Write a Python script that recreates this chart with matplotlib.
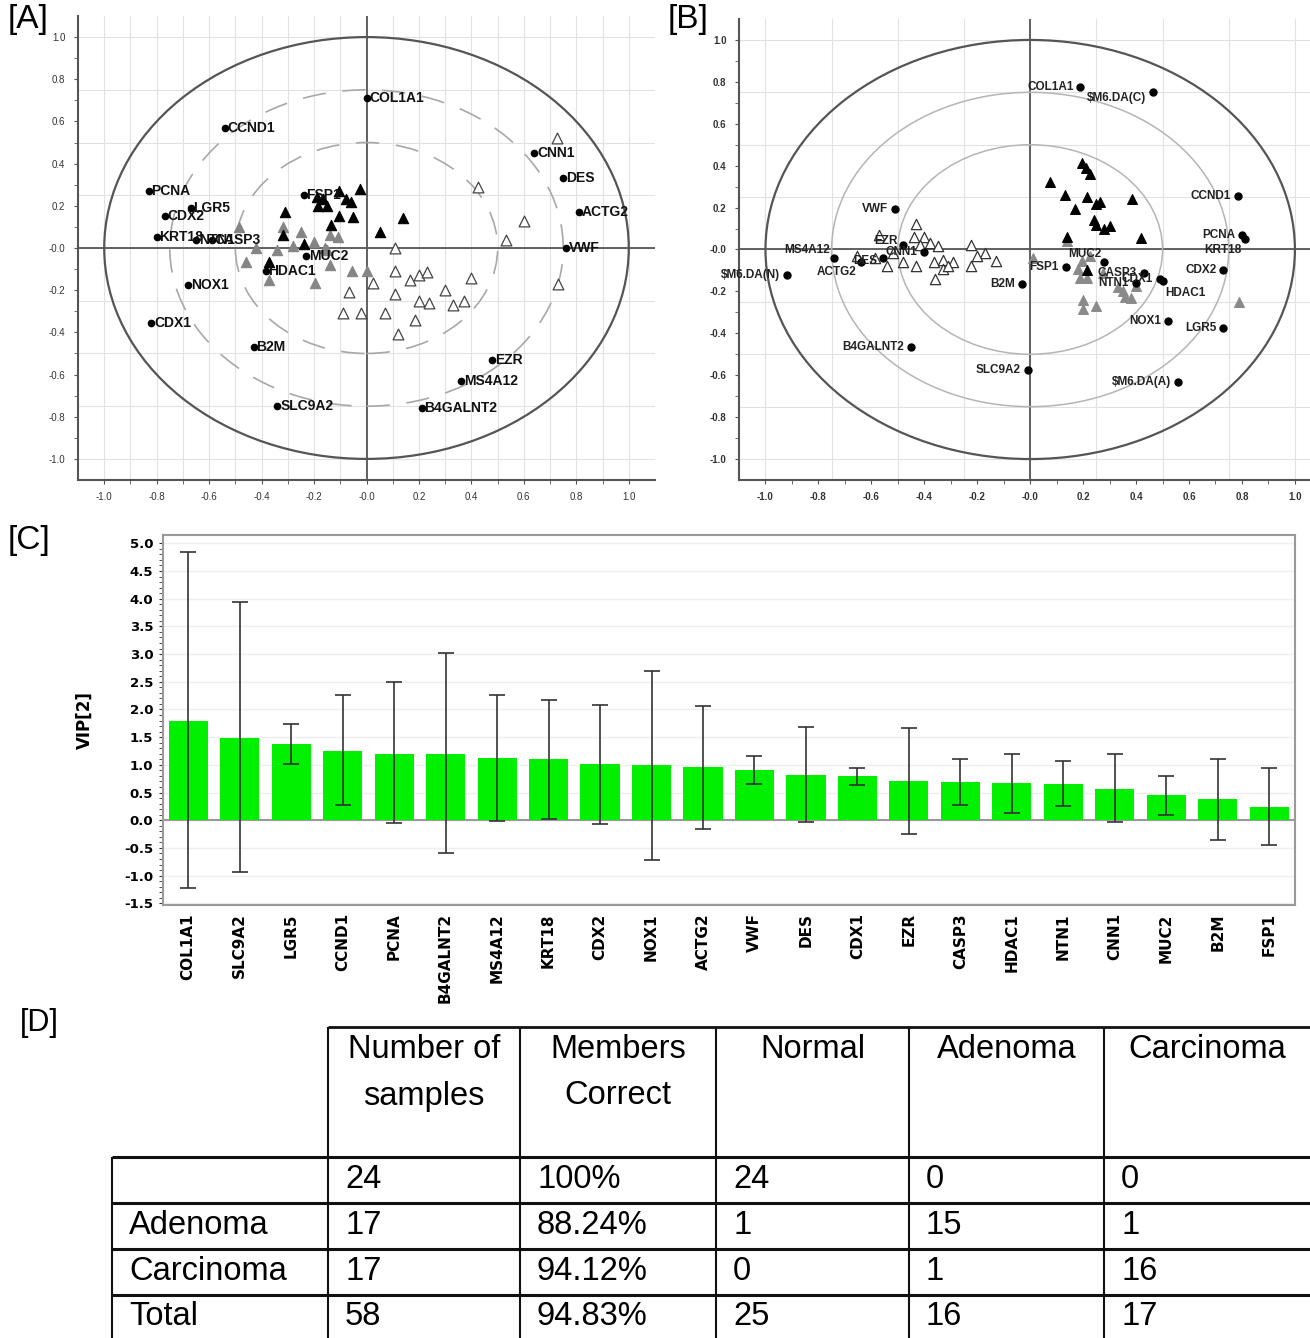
import numpy as np
import matplotlib
matplotlib.use("Agg")
import matplotlib.pyplot as plt
from matplotlib.patches import Circle

plt.rcParams["font.family"] = ["Liberation Sans", "DejaVu Sans"]

W, H = 1310, 1338

# ---- panel A: PCA loadings + scores ----
a_genes = ["COL1A1", "CCND1", "PCNA", "LGR5", "CDX2", "KRT18", "NTN1", "CASP3", "NOX1", "CDX1",
           "B2M", "SLC9A2", "HDAC1", "MUC2", "FSP1", "CNN1", "DES", "ACTG2", "VWF", "EZR",
           "MS4A12", "B4GALNT2"]
a_gx = [0.0, -0.54, -0.83, -0.67, -0.77, -0.80, -0.65, -0.59, -0.68, -0.82,
        -0.43, -0.34, -0.385, -0.23, -0.24, 0.64, 0.75, 0.81, 0.76, 0.48, 0.36, 0.21]
a_gy = [0.71, 0.57, 0.27, 0.19, 0.15, 0.05, 0.04, 0.04, -0.175, -0.355,
        -0.47, -0.75, -0.11, -0.04, 0.25, 0.45, 0.33, 0.17, 0.0, -0.53, -0.63, -0.76]

a_car_x = [-0.025, -0.105, -0.19, -0.165, -0.15, -0.185, -0.08, -0.06, -0.31, -0.105,
           -0.05, -0.135, -0.32, -0.24, 0.05, -0.37, 0.14]
a_car_y = [0.28, 0.27, 0.24, 0.23, 0.20, 0.20, 0.23, 0.22, 0.17, 0.15,
           0.145, 0.11, 0.06, 0.02, 0.075, -0.065, 0.14]
a_ade_x = [-0.485, -0.32, -0.25, -0.28, -0.34, -0.46, -0.15, -0.14, -0.11, -0.37,
           -0.195, -0.14, -0.055, 0.0, -0.16, -0.20, -0.42]
a_ade_y = [0.10, 0.10, 0.075, 0.01, -0.01, -0.065, -0.01, 0.06, 0.05, -0.15,
           -0.165, -0.08, -0.11, -0.11, 0.0, 0.03, 0.0]
a_nor_x = [0.725, 0.425, 0.60, 0.53, 0.11, 0.025, -0.065, -0.09, -0.02, 0.07, 0.11, 0.165,
           0.20, 0.23, 0.40, 0.11, 0.30, 0.20, 0.24, 0.37, 0.185, 0.12, 0.73, 0.33]
a_nor_y = [0.52, 0.29, 0.13, 0.04, 0.0, -0.165, -0.21, -0.31, -0.31, -0.31, -0.11, -0.15,
           -0.13, -0.115, -0.14, -0.22, -0.20, -0.25, -0.26, -0.25, -0.34, -0.41, -0.17, -0.27]

# ---- panel B ----
b_genes = ["VWF", "MS4A12", "ACTG2", "$M6.DA(N)", "EZR", "DES", "CNN1", "B4GALNT2", "B2M",
           "SLC9A2", "FSP1", "MUC2", "CASP3", "CDX1", "HDAC1", "NTN1", "NOX1", "LGR5", "CDX2",
           "PCNA", "KRT18", "$M6.DA(A)", "COL1A1", "$M6.DA(C)", "CCND1"]
b_gx = [-0.51, -0.74, -0.64, -0.92, -0.48, -0.555, -0.40, -0.45, -0.03, -0.01, 0.135, 0.28,
        0.43, 0.49, 0.50, 0.40, 0.52, 0.73, 0.73, 0.80, 0.81, 0.56, 0.19, 0.465, 0.785]
b_gy = [0.195, -0.04, -0.06, -0.12, 0.02, -0.04, -0.01, -0.465, -0.165, -0.575, -0.085, -0.06,
        -0.11, -0.14, -0.15, -0.16, -0.34, -0.375, -0.10, 0.07, 0.05, -0.63, 0.775, 0.75, 0.255]
# label placement (offset in points, alignment) for the crowded ones
b_label_pos = {"MS4A12": (-3, 6, "right"), "ACTG2": (-3, -7, "right"), "KRT18": (-2, -8, "right"),
               "HDAC1": (2, -9, "left"), "MUC2": (-2, 6, "right"), "$M6.DA(C)": (-5, -4, "right"),
               "EZR": (-4, 3, "right"), "DES": (-4, -2, "right")}

b_car_x = [0.195, 0.21, 0.225, 0.075, 0.13, 0.215, 0.17, 0.25, 0.265, 0.385, 0.24, 0.25,
           0.28, 0.14, 0.42, 0.215, 0.30]
b_car_y = [0.415, 0.39, 0.36, 0.32, 0.26, 0.25, 0.195, 0.215, 0.225, 0.24, 0.14, 0.115,
           0.10, 0.06, 0.055, -0.10, 0.11]
b_ade_x = [0.20, 0.20, 0.25, 0.19, 0.215, 0.35, 0.36, 0.38, 0.40, 0.79, 0.01, 0.14,
           0.195, 0.225, 0.275, 0.33, 0.18]
b_ade_y = [-0.24, -0.285, -0.27, -0.135, -0.135, -0.20, -0.225, -0.23, -0.175, -0.25, -0.04, 0.04,
           -0.055, -0.03, -0.11, -0.18, -0.095]
b_nor_x = [-0.57, -0.43, -0.44, -0.40, -0.38, -0.35, -0.415, -0.225, -0.17, -0.13, -0.20, -0.225,
           -0.655, -0.54, -0.48, -0.43, -0.365, -0.33, -0.29, -0.33, -0.36, -0.52, -0.585, -0.31]
b_nor_y = [0.07, 0.12, 0.06, 0.06, 0.03, 0.015, 0.02, 0.02, -0.015, -0.055, -0.03, -0.08,
           -0.03, -0.08, -0.06, -0.08, -0.06, -0.05, -0.06, -0.095, -0.14, -0.015, -0.04, -0.08]

# ---- panel C: VIP ----
vip_genes = ["COL1A1", "SLC9A2", "LGR5", "CCND1", "PCNA", "B4GALNT2", "MS4A12", "KRT18", "CDX2",
             "NOX1", "ACTG2", "VWF", "DES", "CDX1", "EZR", "CASP3", "HDAC1", "NTN1", "CNN1",
             "MUC2", "B2M", "FSP1"]
vip = [1.79, 1.49, 1.37, 1.25, 1.20, 1.19, 1.12, 1.10, 1.01, 0.99, 0.96, 0.91, 0.82, 0.79,
       0.70, 0.69, 0.67, 0.66, 0.57, 0.45, 0.39, 0.24]
vip_hi = [4.84, 3.94, 1.73, 2.26, 2.49, 3.02, 2.26, 2.17, 2.08, 2.70, 2.06, 1.16, 1.68, 0.95,
          1.66, 1.11, 1.20, 1.07, 1.19, 0.80, 1.11, 0.94]
vip_lo = [-1.23, -0.94, 1.02, 0.27, -0.05, -0.60, -0.01, 0.03, -0.06, -0.71, -0.15, 0.66, -0.03,
          0.63, -0.25, 0.27, 0.13, 0.26, -0.04, 0.09, -0.36, -0.45]

# ---- panel D: classification table ----
tab_header = ["Number of\nsamples", "Members\nCorrect", "Normal", "Adenoma", "Carcinoma"]
tab_rows = [["", "24", "100%", "24", "0", "0"],
            ["Adenoma", "17", "88.24%", "1", "15", "1"],
            ["Carcinoma", "17", "94.12%", "0", "1", "16"],
            ["Total", "58", "94.83%", "25", "16", "17"]]


def box(x0, y0, x1, y1):
    return [x0 / W, 1 - y1 / H, (x1 - x0) / W, (y1 - y0) / H]


def tick_labels(vals):
    return ["-0.0" if abs(v) < 1e-9 else f"{v:.1f}" for v in vals]


fig = plt.figure(figsize=(W / 100, H / 100), dpi=100)


def loading_axes(ax, xr, bold):
    ax.set_xlim(*xr)
    ax.set_ylim(-1.1, 1.1)
    for s in ["top", "right"]:
        ax.spines[s].set_visible(False)
    for s in ["left", "bottom"]:
        ax.spines[s].set_color("#555555")
        ax.spines[s].set_linewidth(1.5)
    major = np.round(np.arange(-1.0, 1.01, 0.2), 1)
    ax.set_xticks(major)
    ax.set_xticklabels(tick_labels(major))
    ax.set_yticks(major)
    ax.set_yticklabels(tick_labels(major))
    ax.set_xticks(np.arange(-1.0, 1.01, 0.1), minor=True)
    ax.set_yticks(np.arange(-1.0, 1.01, 0.1), minor=True)
    ax.tick_params(which="both", length=3, color="#555555", labelsize=7,
                   labelcolor="#333333", pad=6)
    if bold:
        for t in ax.get_xticklabels() + ax.get_yticklabels():
            t.set_fontweight("bold")
    ax.axhline(0, color="#555555", lw=1.3, zorder=1)
    ax.axvline(0, color="#555555", lw=1.3, zorder=1)
    ax.add_patch(Circle((0, 0), 1.0, fill=False, ec="#555555", lw=1.6, zorder=1))


# ---------- [A] ----------
axA = fig.add_axes(box(78, 16, 655, 480))
for v in np.arange(-1.0, 1.01, 0.1):
    axA.axvline(v, color="#e2e2e2", lw=0.8, zorder=0)
for v in np.arange(-1.0, 1.01, 0.25):
    axA.axhline(v, color="#e2e2e2", lw=0.8, zorder=0)
loading_axes(axA, (-1.1, 1.1), False)
for r in [0.75, 0.5]:
    axA.add_patch(Circle((0, 0), r, fill=False, ec="#a8a8a8", lw=1.2,
                         ls=(0, (14, 10)), zorder=1))
axA.scatter(a_nor_x, a_nor_y, marker="^", s=60, facecolor="white", edgecolor="#444444",
            lw=0.9, zorder=3)
axA.scatter(a_ade_x, a_ade_y, marker="^", s=55, facecolor="#858585", edgecolor="#858585",
            lw=0.8, zorder=3)
axA.scatter(a_car_x, a_car_y, marker="^", s=55, facecolor="black", edgecolor="black",
            lw=0.8, zorder=4)
axA.plot(a_gx, a_gy, "o", ms=4.5, color="black", zorder=5)
for name, x, y in zip(a_genes, a_gx, a_gy):
    axA.annotate(name, (x, y), xytext=(2, 0), textcoords="offset points", ha="left",
                 va="center", fontsize=10, fontweight="bold", color="#111111", zorder=6)

# ---------- [B] ----------
axB = fig.add_axes(box(739, 19, 1310, 480))
for v in np.arange(-1.0, 1.01, 0.25):
    axB.axvline(v, color="#e2e2e2", lw=0.8, zorder=0)
    axB.axhline(v, color="#e2e2e2", lw=0.8, zorder=0)
loading_axes(axB, (-1.1, 1.057), True)
for r in [0.75, 0.5]:
    axB.add_patch(Circle((0, 0), r, fill=False, ec="#b5b5b5", lw=1.1, zorder=1))
axB.scatter(b_nor_x, b_nor_y, marker="^", s=55, facecolor="white", edgecolor="#333333",
            lw=0.9, zorder=3)
axB.scatter(b_ade_x, b_ade_y, marker="^", s=50, facecolor="#8a8a8a", edgecolor="#8a8a8a",
            lw=0.8, zorder=3)
axB.scatter(b_car_x, b_car_y, marker="^", s=50, facecolor="black", edgecolor="black",
            lw=0.8, zorder=4)
axB.plot(b_gx, b_gy, "o", ms=5, color="black", zorder=5)
for name, x, y in zip(b_genes, b_gx, b_gy):
    dx, dy, ha = b_label_pos.get(name, (-5, 0, "right"))
    axB.annotate(name, (x, y), xytext=(dx, dy), textcoords="offset points", ha=ha,
                 va="center", fontsize=8.5, fontweight="bold", color="#222222", zorder=6)

# ---------- [C] ----------
axC = fig.add_axes(box(163, 535, 1295, 905))
xpos = np.arange(len(vip_genes))
for v in np.arange(-1.5, 5.01, 0.5):
    axC.axhline(v, color="#efefef", lw=1.0, zorder=0)
axC.axhline(0, color="#9a9a9a", lw=1.5, zorder=1)
axC.bar(xpos, vip, width=0.76, color="#00f000", zorder=2)
vip_arr = np.array(vip)
axC.errorbar(xpos, vip_arr, yerr=[vip_arr - np.array(vip_lo), np.array(vip_hi) - vip_arr],
             fmt="none", ecolor="#333333", elinewidth=1.2, capsize=6, capthick=1.2, zorder=3)
axC.set_xlim(-0.49, len(vip_genes) - 0.5)
axC.set_ylim(-1.53, 5.15)
yt = np.arange(-1.5, 5.01, 0.5)
axC.set_yticks(yt)
axC.set_yticklabels([f"{v:.1f}" for v in yt], family=["DejaVu Sans"], fontweight="bold",
                    fontsize=9.5)
axC.set_yticks(np.arange(-1.5, 5.01, 0.1), minor=True)
axC.tick_params(axis="y", which="both", length=3, color="#333333", pad=4)
axC.set_xticks(xpos)
axC.set_xticklabels(vip_genes, rotation=90, family=["Liberation Sans Narrow", "DejaVu Sans"],
                    fontweight="bold", fontsize=11)
axC.tick_params(axis="x", length=0, pad=6)
for s in axC.spines.values():
    s.set_color("#9a9a9a")
    s.set_linewidth(1.5)
axC.set_ylabel("VIP[2]", family=["Liberation Sans Narrow", "DejaVu Sans"], fontweight="bold",
               fontsize=12, labelpad=22)

# ---------- [D] ----------
axT = fig.add_axes([0, 0, 1, (H - 1000) / H])
axT.set_xlim(0, W)
axT.set_ylim(H, 1000)
axT.axis("off")
col_x = [112, 328, 520, 716, 909, 1104, 1310]
row_y = [1027, 1157, 1203, 1249, 1295, 1338]
axT.hlines(row_y[0], col_x[1], col_x[-1], color="#111111", lw=2)
axT.hlines(row_y[1:5], col_x[0], col_x[-1], color="#111111", lw=2.2)
axT.vlines(col_x[0], row_y[1], row_y[-1], color="#111111", lw=1.5)
axT.vlines(col_x[1:6], row_y[0], row_y[-1], color="#111111", lw=1.5)
for j, head in enumerate(tab_header):
    cx = (col_x[j + 1] + col_x[j + 2]) / 2
    for k, line in enumerate(head.split("\n")):
        axT.text(cx, 1050 + 46 * k, line, ha="center", va="center", fontsize=23.5)
for i, row in enumerate(tab_rows):
    cy = (row_y[i + 1] + row_y[i + 2]) / 2
    for j, cell in enumerate(row):
        axT.text(col_x[j] + 17, cy, cell, ha="left", va="center", fontsize=23.5)

# panel letters
fig.text(8 / W, 1 - 4 / H, "[A]", fontsize=24, va="top", ha="left")
fig.text(668 / W, 1 - 4 / H, "[B]", fontsize=24, va="top", ha="left")
fig.text(8 / W, 1 - 525 / H, "[C]", fontsize=24, va="top", ha="left")
fig.text(20 / W, 1 - 1008 / H, "[D]", fontsize=22, va="top", ha="left")

fig.savefig("out.png", dpi=100)
